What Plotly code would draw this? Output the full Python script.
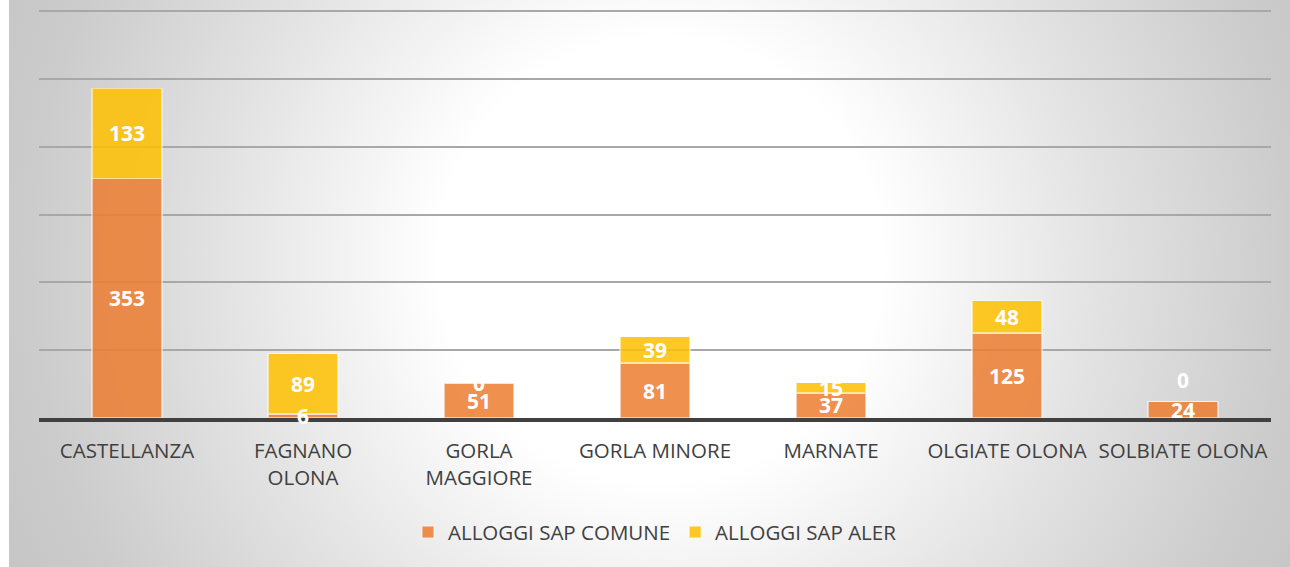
import base64
import plotly.graph_objects as go

categories = ["CASTELLANZA", "FAGNANO<br>OLONA", "GORLA<br>MAGGIORE", "GORLA MINORE",
              "MARNATE", "OLGIATE OLONA", "SOLBIATE OLONA"]
comune = [353, 6, 51, 81, 37, 125, 24]
aler = [133, 89, 0, 39, 15, 48, 0]
series_names = ["ALLOGGI SAP COMUNE", "ALLOGGI SAP ALER"]
y_max = 600
y_step = 100

W, H = 1290, 567
ML, MR, MT, MB = 39, 19, 10, 149
PW, PH = W - ML - MR, H - MT - MB

ORANGE = "#ED7D31"
YELLOW = "#FFC000"
TXT = "#404040"
FONT = "Open Sans"

svg = f'''<svg xmlns="http://www.w3.org/2000/svg" width="{W}" height="{H}" viewBox="0 0 {W} {H}" preserveAspectRatio="none">
<defs><radialGradient id="g" gradientUnits="userSpaceOnUse" cx="660" cy="260" r="740">
<stop offset="0.3" stop-color="#ffffff"/><stop offset="0.6" stop-color="#e2e2e2"/>
<stop offset="0.85" stop-color="#cccccc"/><stop offset="1" stop-color="#c4c4c4"/></radialGradient></defs>
<rect x="0" y="0" width="{W}" height="{H}" fill="#ffffff"/>
<rect x="9" y="0" width="{W-9}" height="{H}" fill="url(#g)"/>
</svg>'''
src = "data:image/svg+xml;base64," + base64.b64encode(svg.encode()).decode()

fig = go.Figure()
bar_line = dict(color="rgba(255,255,255,0.55)", width=1.5)
fig.add_trace(go.Bar(x=categories, y=comune, name=series_names[0],
                     marker=dict(color=ORANGE, line=bar_line), opacity=0.85, hoverinfo="skip"))
fig.add_trace(go.Bar(x=categories, y=aler, name=series_names[1],
                     marker=dict(color=YELLOW, line=bar_line), opacity=0.85, hoverinfo="skip"))

# data labels centred on each segment (Excel-like nudging for empty segments on tiny bars)
label_font = dict(color="white", size=21, family=FONT, weight="bold")
for c, v1, v2 in zip(categories, comune, aler):
    fig.add_annotation(x=c, y=v1 / 2, text=str(v1), showarrow=False, font=label_font)
    shift = 22 if (v2 == 0 and v1 < 40) else 0
    fig.add_annotation(x=c, y=v1 + v2 / 2, text=str(v2), showarrow=False, font=label_font,
                       yshift=shift)

fig.update_layout(
    width=W, height=H,
    margin=dict(l=ML, r=MR, t=MT, b=MB),
    barmode="stack", bargap=0.6,
    paper_bgcolor="white", plot_bgcolor="rgba(0,0,0,0)",
    font=dict(family=FONT, color=TXT, size=20.5),
    images=[dict(source=src, xref="paper", yref="paper", x=-ML / PW, y=1 + MT / PH,
                 sizex=W / PW, sizey=H / PH, xanchor="left", yanchor="top",
                 sizing="stretch", layer="below")],
    legend=dict(orientation="h", x=0.5, xanchor="center", y=-0.28, yanchor="middle",
                font=dict(size=20.5, color=TXT), bgcolor="rgba(0,0,0,0)", traceorder="normal"),
    xaxis=dict(showline=True, linecolor="#404040", linewidth=3.5, ticks="",
               tickfont=dict(size=20.5, color=TXT), showgrid=False, ticklabelstandoff=12),
    yaxis=dict(range=[0, y_max + 1.5], dtick=y_step, showticklabels=False, showgrid=True,
               gridcolor="#a8a8a8", gridwidth=1.5, zeroline=False, showline=False),
)
fig.write_html("out.html", config={"displayModeBar": False},
               post_script="document.body.style.margin='0';document.body.style.overflow='hidden';")
